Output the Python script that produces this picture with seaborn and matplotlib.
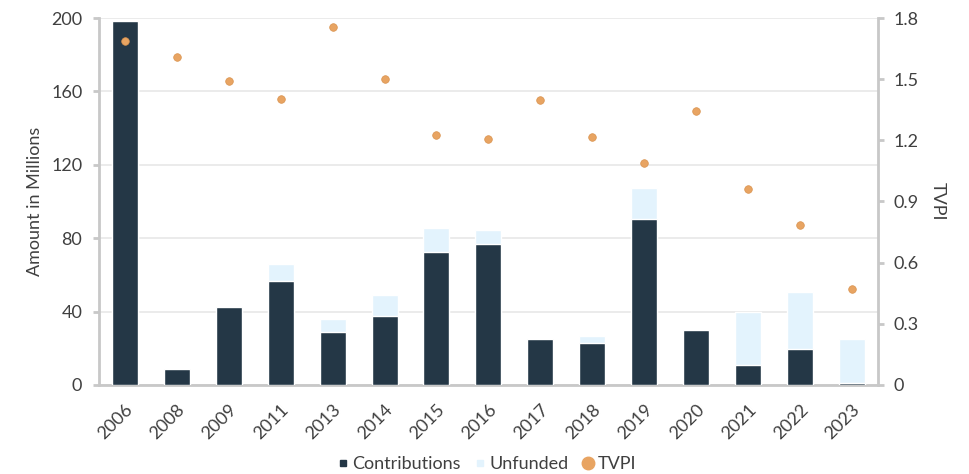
import matplotlib
matplotlib.use("Agg")
import matplotlib.pyplot as plt
import seaborn as sns
import pandas as pd
from matplotlib.lines import Line2D

# Daten
years = ["2006", "2008", "2009", "2011", "2013", "2014", "2015", "2016",
         "2017", "2018", "2019", "2020", "2021", "2022", "2023"]
contributions = [198.5, 8.7, 42.5, 56.7, 28.9, 37.6, 72.5, 76.8,
                 25.0, 22.9, 90.5, 30.0, 10.9, 19.6, 1.0]
unfunded = [0.0, 0.0, 0.0, 9.2, 7.1, 11.4, 13.1, 7.7,
            0.0, 3.8, 16.9, 0.0, 28.9, 31.1, 24.0]
tvpi = [1.687, 1.609, 1.491, 1.403, 1.756, 1.50, 1.226, 1.206,
        1.40, 1.216, 1.089, 1.344, 0.961, 0.785, 0.471]

df = pd.DataFrame({"year": years, "contributions": contributions,
                   "unfunded": unfunded, "tvpi": tvpi})
df["total"] = df["contributions"] + df["unfunded"]

dark = "#243746"
light = "#E3F3FD"
orange = "#E8A462"
spine_col = "#C8C8C8"
text_col = "#404040"
fs = 13

sns.set_style("white")
plt.rcParams["font.family"] = ["Lato", "DejaVu Sans"]

fig = plt.figure(figsize=(9.7, 4.74), dpi=100)
ax = fig.add_axes([0.102, 0.188, 0.803, 0.774])

sns.barplot(data=df, x="year", y="total", color=light, width=0.5,
            saturation=1, ax=ax, zorder=2)
sns.barplot(data=df, x="year", y="contributions", color=dark, width=0.5,
            saturation=1, ax=ax, zorder=3)

ax.set_ylim(0, 200)
ax.set_yticks(range(0, 201, 40))
ax.set_xlim(-0.5, len(years) - 0.5)
ax.grid(axis="y", color="#E8E8E8", linewidth=1.2, zorder=0)
ax.set_axisbelow(True)
ax.set_xlabel("")
ax.set_ylabel("Amount in Millions", fontsize=fs, color=text_col, labelpad=6)

ax2 = ax.twinx()
sns.scatterplot(data=df, x="year", y="tvpi", color=orange, s=30,
                edgecolor="#D9924E", linewidth=0.5, ax=ax2, zorder=5)
ax2.set_ylim(0, 1.8)
ax2.set_yticks([0, 0.3, 0.6, 0.9, 1.2, 1.5, 1.8])
ax2.set_yticklabels(["0", "0.3", "0.6", "0.9", "1.2", "1.5", "1.8"])
ax2.set_ylabel("TVPI", fontsize=fs, color=text_col, rotation=-90, labelpad=20)
ax2.set_xlabel("")

for a in (ax, ax2):
    for side in a.spines:
        a.spines[side].set_visible(False)
    a.tick_params(colors=spine_col, labelcolor=text_col, labelsize=fs,
                  length=4, width=2)

ax.spines["left"].set_visible(True)
ax.spines["bottom"].set_visible(True)
ax2.spines["right"].set_visible(True)
for s in (ax.spines["left"], ax.spines["bottom"], ax2.spines["right"]):
    s.set_color(spine_col)
    s.set_linewidth(2)

ax.tick_params(axis="y", pad=8)
ax2.tick_params(axis="y", pad=7)
ax.tick_params(axis="x", pad=8)
plt.setp(ax.get_xticklabels(), rotation=45, ha="right", rotation_mode="anchor")

handles = [
    Line2D([], [], marker="s", linestyle="", color=dark, markersize=5),
    Line2D([], [], marker="s", linestyle="", color=light, markersize=5),
    Line2D([], [], marker="o", linestyle="", color=orange, markersize=9),
]
fig.legend(handles, ["Contributions", "Unfunded", "TVPI"], loc="lower center",
           bbox_to_anchor=(0.5, -0.03), ncol=3, frameon=False, fontsize=fs,
           handletextpad=0.0, columnspacing=0.6, handlelength=1.0,
           labelcolor=text_col)

fig.savefig("out.png", dpi=100)
